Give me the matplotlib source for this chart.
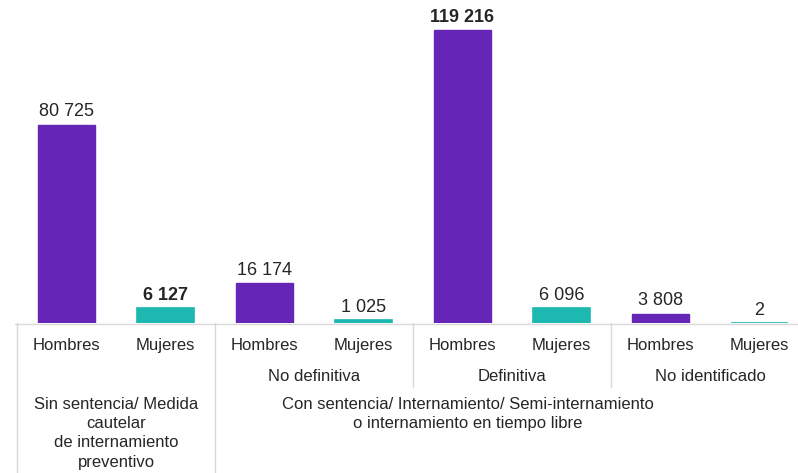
import matplotlib.pyplot as plt
from matplotlib import transforms

plt.rcParams['font.family'] = ['Liberation Sans', 'DejaVu Sans']

sexos = ['Hombres', 'Mujeres']
subgrupos = ['', 'No definitiva', 'Definitiva', 'No identificado']
hombres = [80725, 16174, 119216, 3808]
mujeres = [6127, 1025, 6096, 2]
etiquetas_h = ['80 725', '16 174', '119 216', '3 808']
etiquetas_m = ['6 127', '1 025', '6 096', '2']
negritas = ['119 216', '6 127']
grupo_1 = 'Sin sentencia/ Medida\ncautelar\nde internamiento\npreventivo'
grupo_2 = 'Con sentencia/ Internamiento/ Semi-internamiento\no internamiento en tiempo libre'

morado = '#6526B8'
verde = '#1DB8B0'
gris = '#D9D9D9'
texto = '#262626'

fig = plt.figure(figsize=(7.98, 4.73), dpi=100)
# el eje se extiende un poco mas alla del borde derecho
ax = fig.add_axes([17 / 798, 150 / 473, 792 / 798, 323 / 473])
ax.patch.set_alpha(0)

xs_h = [2 * i for i in range(4)]
xs_m = [2 * i + 1 for i in range(4)]
ax.bar(xs_h, hombres, width=0.57, color=morado, edgecolor=morado, lw=1)
ax.bar(xs_m, mujeres, width=0.57, color=verde, edgecolor=verde, lw=1.2)

for x, v, t in list(zip(xs_h, hombres, etiquetas_h)) + list(zip(xs_m, mujeres, etiquetas_m)):
    ax.annotate(t, (x, v), xytext=(0, 3), textcoords='offset points',
                ha='center', va='bottom', fontsize=13, color=texto,
                fontweight='bold' if t in negritas else 'normal')

ax.set_xlim(-0.5, 7.5)
ax.set_ylim(0, 131400)
ax.set_xticks([])
ax.set_yticks([])
for s in ax.spines.values():
    s.set_visible(False)

tr = transforms.blended_transform_factory(ax.transData, fig.transFigure)

def fy(y):
    return 1 - y / 473

fig.add_artist(plt.Line2D([15 / 798, 1], [fy(323.5), fy(323.5)], color=gris,
                          lw=1, zorder=-1))

for i in range(8):
    fig.text(i, fy(345), sexos[i % 2], transform=tr, ha='center', va='center',
             fontsize=12, color=texto)

for j, nombre in enumerate(subgrupos):
    if nombre:
        fig.text(2 * j + 0.5, fy(376), nombre, transform=tr, ha='center',
                 va='center', fontsize=12, color=texto)

fig.text(0.5, fy(397), grupo_1, transform=tr, ha='center', va='top',
         fontsize=12, color=texto, linespacing=1.35)
fig.text(4.05, fy(397), grupo_2, transform=tr, ha='center', va='top',
         fontsize=12, color=texto, linespacing=1.35)

# lineas separadoras
for x, y_fin in [(-0.5, 473), (1.5, 473), (3.5, 387), (5.5, 387)]:
    ax.plot([x, x], [fy(323), fy(y_fin)], transform=tr, color=gris, lw=1,
            clip_on=False)

fig.savefig('out.png', dpi=100)
